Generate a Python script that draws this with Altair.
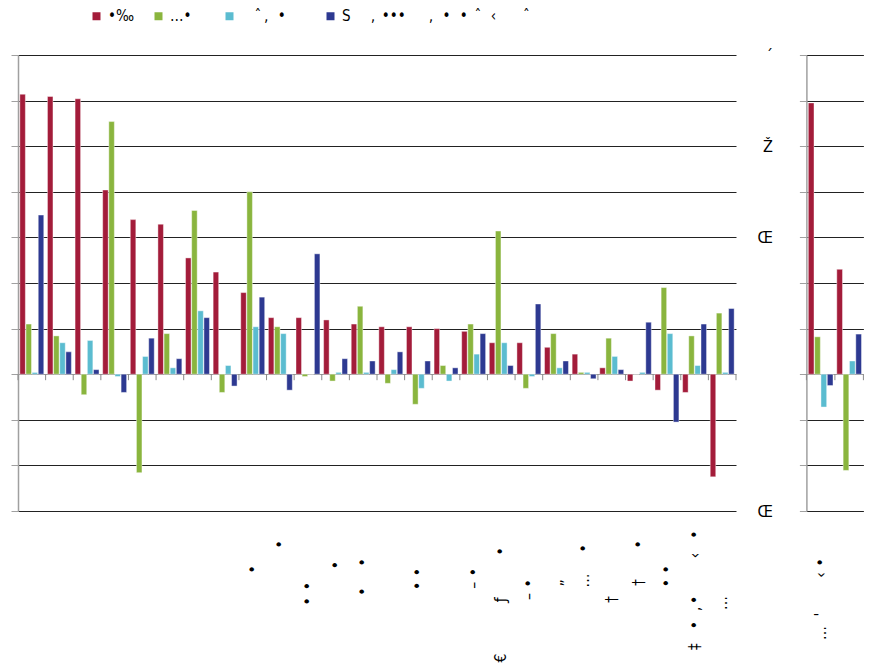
import json
import altair as alt
import pandas as pd

EN = "\u2002"
TH = "\u2009"
ZW = "\u200b"


def sp(s):
    # "_" = en space, "~" = thin space; zero-width guards keep edge spaces from being trimmed
    return ZW + s.replace("_", EN).replace("~", TH) + ZW


FONT = "Liberation Sans Narrow, DejaVu Sans Condensed, Liberation Sans, sans-serif"

# ---- series (legend) ----
series_raw = ["•‰_", "…•___", "__ˆ~‚_~•____", "Š___‚_•••___~‚_~•_~•_ˆ_~‹____ˆ"]
series = [sp(s) for s in series_raw]
colors = ["#A31C3A", "#8AB53E", "#5BBCD0", "#2D3991"]

# ---- left panel ----
groups_left = list(range(1, 27))
red_left = [6.14, 6.09, 6.04, 4.04, 3.39, 3.29, 2.55, 2.24, 1.79, 1.24, 1.24, 1.19, 1.10,
            1.04, 1.04, 1.00, 0.94, 0.69, 0.69, 0.59, 0.44, 0.14, -0.15, -0.35, -0.40, -2.25]
green_left = [1.10, 0.84, -0.45, 5.54, -2.16, 0.89, 3.59, -0.40, 4.00, 1.04, -0.05, -0.15, 1.49,
              -0.20, -0.66, 0.19, 1.10, 3.14, -0.31, 0.89, 0.04, 0.79, 0.0, 1.90, 0.84, 1.34]
cyan_left = [0.04, 0.69, 0.74, -0.05, 0.39, 0.14, 1.39, 0.19, 1.04, 0.89, 0.0, 0.04, 0.04,
             0.10, -0.31, -0.15, 0.44, 0.69, -0.05, 0.14, 0.04, 0.39, 0.04, 0.89, 0.19, 0.04]
blue_left = [3.49, 0.49, 0.10, -0.40, 0.79, 0.34, 1.24, -0.26, 1.69, -0.35, 2.64, 0.34, 0.29,
             0.49, 0.29, 0.14, 0.89, 0.19, 1.54, 0.29, -0.10, 0.10, 1.14, -1.05, 1.10, 1.44]
xlabels_left_raw = ["", "", "", "", "", "", "", "",
                    "•_______", "•___~", "•_•_________~", "•______~", "•___•______", "",
                    "•~~•_______~", "", "–~~•_______~", "€_______~ƒ______•____~",
                    "–~~•_________", "„_________", "…___•____", "†___________~",
                    "†____~•___~", "•~~•_______", "‡__•_~‚~•_____~‹__•__", "…___________~"]

# ---- right panel ----
groups_right = [1, 2]
red_right = [5.95, 2.30]
green_right = [0.82, -2.11]
cyan_right = [-0.72, 0.29]
blue_right = [-0.25, 0.88]
xlabels_right_raw = ["…_~'_____‹~~•______", ""]

# ---- y axis ----
y_ticks = list(range(-3, 8))
ylab_vals = [7, 5, 3, -3]
ylab_text = ["´", "Ž", "Œ", "Œ"]


def long_df(groups, cols):
    rows = []
    for i, g in enumerate(groups):
        for s, vals in zip(series, cols):
            rows.append({"grp": g, "series": s, "v": vals[i]})
    return pd.DataFrame(rows)


grid_color = {"condition": {"test": "datum.value === 0", "value": "#9a9a9a"}, "value": "#222222"}


def panel(groups, cols, xlabels_raw, width, pad_outer, legend, right_labels):
    df = long_df(groups, cols)
    xl = json.dumps([sp(s) if s else "" for s in xlabels_raw], ensure_ascii=False)
    xaxis = alt.Axis(title=None, labelAngle=270, labelExpr=f"{xl}[datum.value - 1]",
                     domain=False, ticks=False, labelPadding=5, labelFont=FONT,
                     labelFontSize=15.5, labelColor="#000", labelOverlap=False,
                     labelBound=False, labelFlush=False)
    yaxis_kw = dict(title=None, values=y_ticks, domainColor="#a0a0a0", domainWidth=1.5,
                    tickColor="#a0a0a0", tickSize=7, tickWidth=1, gridColor=grid_color,
                    gridWidth=1, grid=True)
    if right_labels:
        vals = json.dumps(ylab_vals)
        txt = json.dumps(ylab_text, ensure_ascii=False)
        yaxis = alt.Axis(**yaxis_kw, labelExpr=f"indexof({vals}, datum.value) >= 0 ? {txt}[indexof({vals}, datum.value)] : ''",
                         labelPadding=27, labelFont=FONT, labelFontSize=16, labelColor="#000")
    else:
        yaxis = alt.Axis(**yaxis_kw, labels=False)

    xscale = alt.Scale(paddingInner=0, paddingOuter=0)
    yscale = alt.Scale(domain=[-3, 7], nice=False, zero=True)
    bars = alt.Chart(df).mark_bar(stroke="white", strokeWidth=0.6, strokeOpacity=0.7).encode(
        x=alt.X("grp:O", scale=xscale, sort=groups, axis=xaxis),
        xOffset=alt.XOffset("series:N", sort=series,
                            scale=alt.Scale(paddingInner=0.1, paddingOuter=pad_outer)),
        y=alt.Y("v:Q", scale=yscale, axis=yaxis),
        color=alt.Color("series:N", sort=series,
                        scale=alt.Scale(domain=series, range=colors), legend=legend),
    )
    gdf = pd.DataFrame({"grp": groups})
    ticks = alt.Chart(gdf).mark_rule(color="#8a8a8a", strokeWidth=1, y2Offset=6).encode(
        x=alt.X("grp:O", sort=groups, bandPosition=0),
        y=alt.datum(0),
        y2=alt.datum(0),
    )
    last = alt.Chart(gdf.tail(1)).mark_rule(color="#8a8a8a", strokeWidth=1, y2Offset=6).encode(
        x=alt.X("grp:O", sort=groups, bandPosition=1),
        y=alt.datum(0),
        y2=alt.datum(0),
    )
    return alt.layer(bars, ticks, last).properties(width=width, height=456)


legend = alt.Legend(orient="none", legendX=71, legendY=-46.5, direction="horizontal", title=None,
                    symbolType="square", symbolSize=64, symbolStrokeWidth=0,
                    labelFont=FONT, labelFontSize=15, labelColor="#000", labelOffset=4,
                    columnPadding=10, labelLimit=600, padding=0)

left = panel(groups_left, [red_left, green_left, cyan_left, blue_left], xlabels_left_raw,
             718, 0.3, legend, False)
right = panel(groups_right, [red_right, green_right, cyan_right, blue_right], xlabels_right_raw,
              57, 0.3, None, True)

chart = alt.hconcat(left, right, spacing=19.4).resolve_scale(
    x="independent", y="independent", xOffset="independent"
).resolve_legend(color="independent").properties(
    padding={"left": 2, "top": 0, "right": 0, "bottom": 0}
).configure_view(stroke=None)

chart.save("out.html", embed_options={"renderer": "svg", "actions": False})
